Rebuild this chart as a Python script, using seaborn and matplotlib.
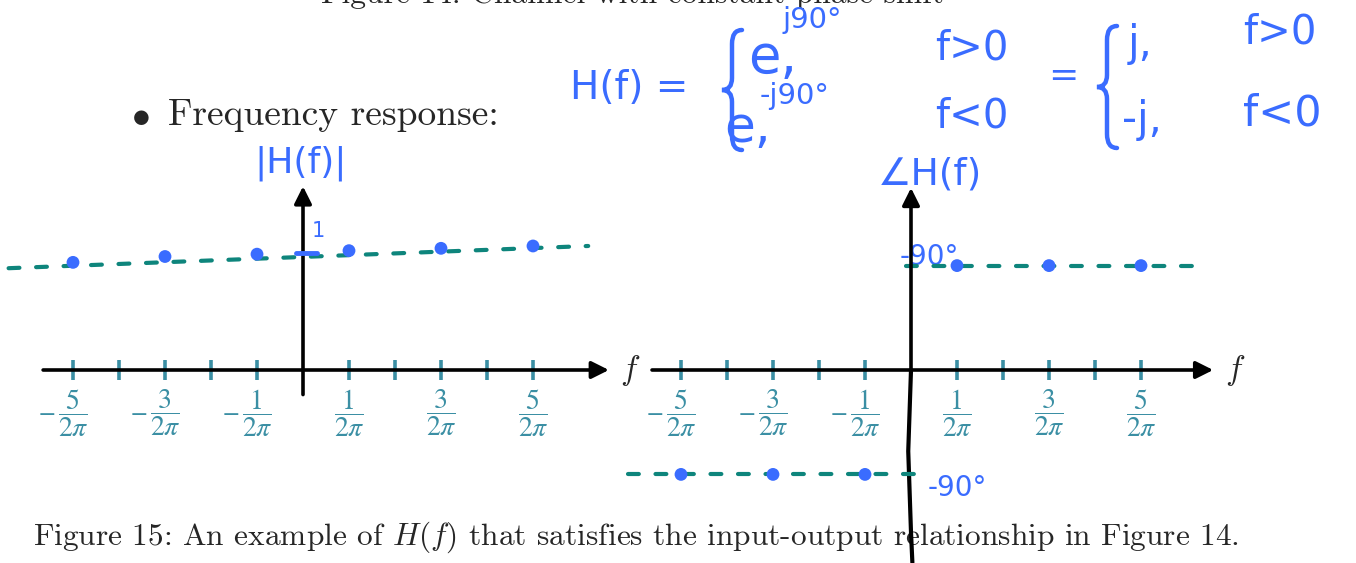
# Frequency response sketch: |H(f)| and angle H(f) for a constant 90 deg phase shift

import matplotlib
matplotlib.use('Agg')
import matplotlib.pyplot as plt
import seaborn as sns
from matplotlib.path import Path
from matplotlib.patches import PathPatch

sns.set_style('white')

# ticks along f, in units of 1/(2*pi)
tick_k = [-5, -4, -3, -2, -1, 1, 2, 3, 4, 5]
label_k = [-5, -3, -1, 1, 3, 5]
label_num = ['5', '3', '1', '1', '3', '5']

# magnitude sketch (values as drawn, nominally 1)
mag_k = [-5, -3, -1, 1, 3, 5]
mag_vals = [0.92, 0.97, 0.99, 1.02, 1.04, 1.06]
mag_line_k = [-6.4, 6.2]
mag_line_vals = [0.87, 1.06]

# phase sketch in degrees
pos_k = [1, 3, 5]
pos_vals = [90, 90, 90]
pos_line_k = [-0.1, 6.2]
pos_line_vals = [90, 90]
neg_k = [-5, -3, -1]
neg_vals = [-90, -90, -90]
neg_line_k = [-6.15, 0.1]
neg_line_vals = [-90, -90]

W, H = 1356, 563
BLUE = '#3a6cff'
TEAL = '#0e857c'
TICK = '#3b8fa4'
PX = 46  # pixels per 1/(2pi)

fig = plt.figure(figsize=(W / 100, H / 100), dpi=100)

# overlay in pixel coordinates for text / handwriting
ov = fig.add_axes([0, 0, 1, 1])
ov.set_xlim(0, W)
ov.set_ylim(H, 0)
ov.axis('off')


def make_axes(x0, y0, scale):
    # full-figure transparent axes, origin at pixel (x0, y0), scale = px per y unit
    ax = fig.add_axes([0, 0, 1, 1])
    ax.set_xlim(-x0 / PX, (W - x0) / PX)
    ax.set_ylim(-(H - y0) / scale, y0 / scale)
    ax.axis('off')
    ax.patch.set_alpha(0)
    return ax


def draw_frame(ax, scale, h_from, h_to, v_from, v_to):
    arrow = dict(arrowstyle='-|>', lw=2.6, color='black', mutation_scale=26,
                 shrinkA=0, shrinkB=0)
    ax.annotate('', xy=(h_to, 0), xytext=(h_from, 0), arrowprops=arrow)
    ax.annotate('', xy=(0, v_to), xytext=(0, v_from), arrowprops=arrow)
    tick_h = 10 / scale
    ax.vlines(tick_k, -tick_h, tick_h, color=TICK, lw=2.6)
    for k, num in zip(label_k, label_num):
        ax.text(k, -43 / scale, r'$\dfrac{%s}{2\pi}$' % num, color=TICK,
                fontsize=20, ha='center', va='center', math_fontfamily='stix')
        if k < 0:
            ax.text(k - 0.36, -45 / scale, '\u2212', color=TICK, fontsize=16,
                    ha='right', va='center', family='DejaVu Serif')
    ax.text(h_to + 0.25, 0, r'$f$', fontsize=24, ha='left', va='center',
            math_fontfamily='cm')


dash = dict(lw=3, linestyle=(0, (2.6, 4.0)), dash_capstyle='round', legend=False)

# left: magnitude
axL = make_axes(303, 370, 117)
draw_frame(axL, 117, -5.65, 6.65, -0.21, 1.57)
sns.lineplot(x=mag_line_k, y=mag_line_vals, ax=axL, color=TEAL, **dash)
sns.scatterplot(x=mag_k, y=mag_vals, ax=axL, color=BLUE, s=85, edgecolor='none', zorder=5)
axL.plot([-0.15, 0.3], [1, 1], color=BLUE, lw=3.5, solid_capstyle='round', zorder=6)

# right: phase
axR = make_axes(911, 370, 1.16)
draw_frame(axR, 1.16, -5.63, 6.57, 0, 157)
axR.plot([0, -0.06, 0.0, 0.03], [0, -70, -140, -166], color='black', lw=3)
sns.lineplot(x=pos_line_k, y=pos_line_vals, ax=axR, color=TEAL, **dash)
sns.lineplot(x=neg_line_k, y=neg_line_vals, ax=axR, color=TEAL, **dash)
sns.scatterplot(x=pos_k, y=pos_vals, ax=axR, color=BLUE, s=85, edgecolor='none', zorder=5)
sns.scatterplot(x=neg_k, y=neg_vals, ax=axR, color=BLUE, s=85, edgecolor='none', zorder=5)

# printed text
ov.text(633, 3, 'Figure 14: Channel with constant phase shift', fontsize=22.7,
        family='cmr10', ha='center', va='baseline')
ov.text(131, 115, r'$\bullet$', fontsize=27, math_fontfamily='cm', va='center')
ov.text(168, 115, 'Frequency response:', fontsize=27, family='cmr10', va='center')
ov.text(33, 537, 'Figure 15: An example of $H(f)$ that satisfies the input-output '
        'relationship in Figure 14.', fontsize=22.6, family='cmr10',
        math_fontfamily='cm', va='center')

# handwriting
hw = dict(color=BLUE, family='DejaVu Sans', va='center')
ov.text(570, 88, 'H(f) =', fontsize=28, **hw)
ov.text(748, 58, 'e,', fontsize=38, **hw)
ov.text(782, 20, 'j90\u00b0', fontsize=21, **hw)
ov.text(935, 48, 'f>0', fontsize=29, **hw)
ov.text(760, 96, '-j90\u00b0', fontsize=21, **hw)
ov.text(724, 128, 'e,', fontsize=36, **hw)
ov.text(935, 117, 'f<0', fontsize=29, **hw)
ov.text(1048, 76, '=', fontsize=26, **hw)
ov.text(1128, 44, 'j,', fontsize=30, **hw)
ov.text(1243, 32, 'f>0', fontsize=29, **hw)
ov.text(1122, 120, '-j,', fontsize=30, **hw)
ov.text(1243, 114, 'f<0', fontsize=31, **hw)
ov.text(254, 163, '|H(f)|', fontsize=26, **hw)
ov.text(312, 231, '1', fontsize=15, **hw)
ov.text(878, 174, '\u2220H(f)', fontsize=27, **hw)
ov.text(900, 257, '-90\u00b0', fontsize=20, **hw)
ov.text(928, 488, '-90\u00b0', fontsize=20, **hw)

# braces
for x, top, bot in [(742, 30, 150), (1117, 26, 148)]:
    mid = (top + bot) / 2
    verts = [(x, top), (x - 10, top), (x - 10, top + 14),
             (x - 10, mid - 12),
             (x - 10, mid), (x - 20, mid),
             (x - 10, mid), (x - 10, mid + 12),
             (x - 10, bot - 14),
             (x - 10, bot), (x, bot)]
    codes = [Path.MOVETO, Path.CURVE3, Path.CURVE3,
             Path.LINETO,
             Path.CURVE3, Path.CURVE3,
             Path.CURVE3, Path.CURVE3,
             Path.LINETO,
             Path.CURVE3, Path.CURVE3]
    ov.add_patch(PathPatch(Path(verts, codes), fill=False,
                           edgecolor=BLUE, lw=3.2, capstyle='round'))

fig.savefig('out.png', dpi=100)
